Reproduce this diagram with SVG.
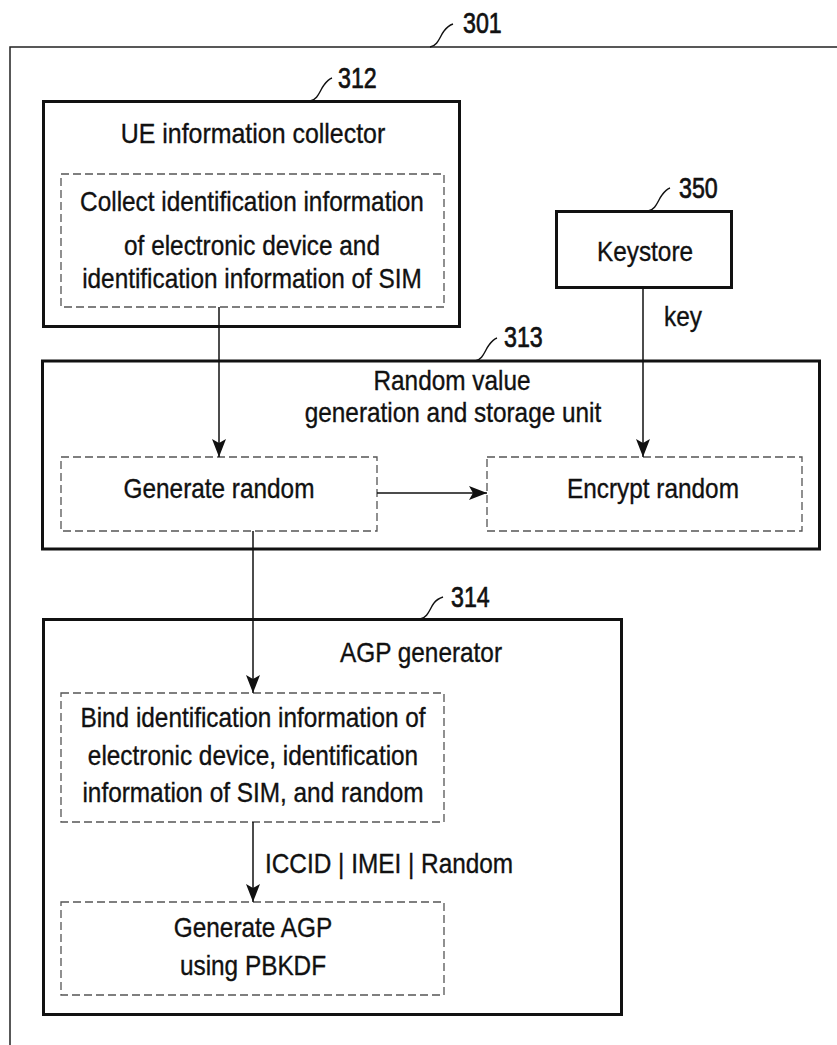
<svg xmlns="http://www.w3.org/2000/svg" width="837" height="1045" viewBox="0 0 837 1045">
  <style>
    .frame { fill: none; stroke: #222; stroke-width: 1.5; }
    .unit { fill: #fff; stroke: #111; stroke-width: 3; }
    .step { fill: #fff; stroke: #555; stroke-width: 1.3; stroke-dasharray: 8 4; }
    .wire { fill: none; stroke: #111; stroke-width: 1.5; }
    .lead { fill: none; stroke: #111; stroke-width: 1.4; }
    .t { font-family: "Liberation Sans", Arial, sans-serif; font-size: 28px; fill: #111; stroke: #111; stroke-width: 0.35; }
    .c { text-anchor: middle; }
    .num { font-family: "Liberation Sans", Arial, sans-serif; font-size: 29px; fill: #111; stroke: #111; stroke-width: 0.7; }
  </style>
  <defs>
    <marker id="arrow" markerUnits="userSpaceOnUse" markerWidth="20" markerHeight="14" refX="18" refY="7" orient="auto">
      <path d="M0,0 L18,7 L0,14 L4,7 z" fill="#111"/>
    </marker>
  </defs>

  <rect width="837" height="1045" fill="#fff"/>

  <!-- 301: outer device frame -->
  <g id="device-301">
    <path class="frame" d="M10,1045 L10,47 L837,47"/>
    <path class="lead" d="M430,47 C438,46 440,36 444,31 C447,27 450,25 453,24"/>
    <text class="num" transform="translate(463,33) scale(0.8,1)">301</text>
  </g>

  <!-- 312: UE information collector -->
  <g id="ue-collector-312">
    <rect class="unit" x="43.5" y="101.5" width="416" height="225"/>
    <path class="lead" d="M310,101 C318,100 320,90 324,85 C327,81 329,79 332,78"/>
    <text class="num" transform="translate(338,88) scale(0.8,1)">312</text>
    <text class="t c" transform="translate(253,143) scale(0.89,1)">UE information collector</text>
    <rect class="step" x="61" y="174" width="383" height="133"/>
    <text class="t c" transform="translate(252,211) scale(0.87,1)">Collect identification information</text>
    <text class="t c" transform="translate(252,255) scale(0.87,1)">of electronic device and</text>
    <text class="t c" transform="translate(252,288) scale(0.87,1)">identification information of SIM</text>
  </g>

  <!-- 350: Keystore -->
  <g id="keystore-350">
    <rect class="unit" x="556.5" y="211.5" width="175" height="76"/>
    <path class="lead" d="M648,211 C656,210 658,200 662,195 C665,191 667,189 670,188"/>
    <text class="num" transform="translate(679,198) scale(0.8,1)">350</text>
    <text class="t c" transform="translate(645,261) scale(0.87,1)">Keystore</text>
  </g>

  <!-- 313: Random value generation and storage unit -->
  <g id="random-unit-313">
    <rect class="unit" x="42.5" y="361" width="777" height="188"/>
    <path class="lead" d="M475,361 C483,360 485,350 489,345 C492,341 494,339 497,338"/>
    <text class="num" transform="translate(504,347) scale(0.8,1)">313</text>
    <text class="t c" transform="translate(452,390) scale(0.87,1)">Random value</text>
    <text class="t c" transform="translate(453,422) scale(0.87,1)">generation and storage unit</text>
  </g>
  <g id="generate-random">
    <rect class="step" x="61" y="457" width="316" height="74"/>
    <text class="t c" transform="translate(219,498) scale(0.87,1)">Generate random</text>
  </g>
  <g id="encrypt-random">
    <rect class="step" x="487" y="457" width="315" height="74"/>
    <text class="t c" transform="translate(653,498) scale(0.87,1)">Encrypt random</text>
  </g>

  <!-- 314: AGP generator -->
  <g id="agp-generator-314">
    <rect class="unit" x="43.5" y="619.5" width="578" height="395"/>
    <path class="lead" d="M420,619 C428,618 430,608 434,603 C437,599 440,598 443,597"/>
    <text class="num" transform="translate(451,607) scale(0.8,1)">314</text>
    <text class="t" transform="translate(340,662) scale(0.87,1)">AGP generator</text>
  </g>
  <g id="bind-identifiers">
    <rect class="step" x="61" y="693" width="383" height="129"/>
    <text class="t c" transform="translate(253,727) scale(0.87,1)">Bind identification information of</text>
    <text class="t c" transform="translate(253,765) scale(0.87,1)">electronic device, identification</text>
    <text class="t c" transform="translate(253,802) scale(0.87,1)">information of SIM, and random</text>
  </g>
  <g id="generate-agp">
    <rect class="step" x="61" y="902" width="383" height="93"/>
    <text class="t c" transform="translate(253,937) scale(0.87,1)">Generate AGP</text>
    <text class="t c" transform="translate(253,975) scale(0.87,1)">using PBKDF</text>
  </g>

  <!-- connectors -->
  <g id="connectors">
    <line class="wire" x1="219" y1="307" x2="219" y2="457" marker-end="url(#arrow)"/>
    <line class="wire" x1="643" y1="288" x2="643" y2="457" marker-end="url(#arrow)"/>
    <text class="t" transform="translate(664,326) scale(0.87,1)">key</text>
    <line class="wire" x1="377" y1="493" x2="487" y2="493" marker-end="url(#arrow)"/>
    <line class="wire" x1="253" y1="531" x2="253" y2="693" marker-end="url(#arrow)"/>
    <line class="wire" x1="253" y1="822" x2="253" y2="902" marker-end="url(#arrow)"/>
    <text class="t" transform="translate(265,873) scale(0.87,1)">ICCID | IMEI | Random</text>
  </g>
</svg>
